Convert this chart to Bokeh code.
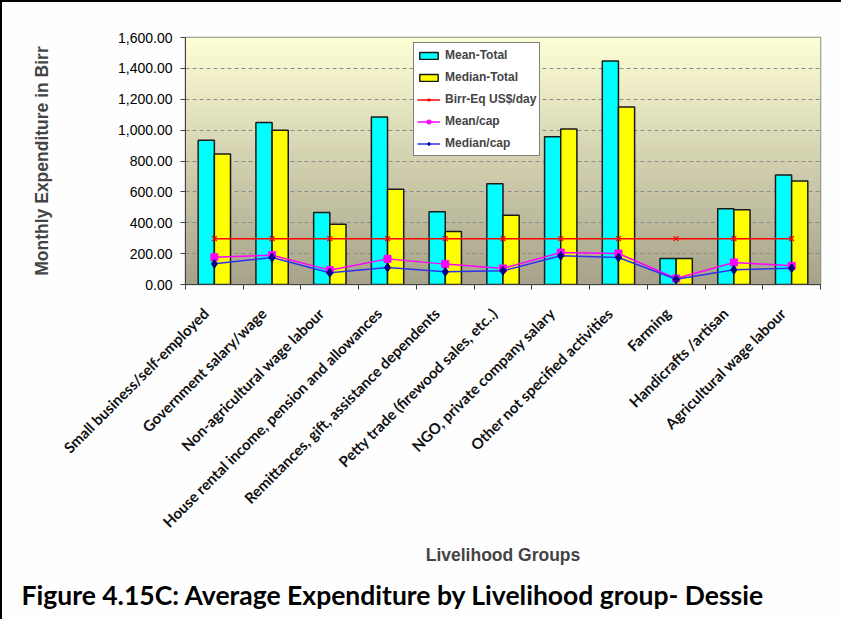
import numpy as np
from math import pi
from bokeh.plotting import figure
from bokeh.models import (Range1d, FixedTicker, NumeralTickFormatter,
                          Legend, LegendItem, Title, ColumnDataSource)
from bokeh.embed import file_html
from bokeh.resources import INLINE

categories = [
    "Small business/self-employed",
    "Government salary/wage",
    "Non-agricultural wage labour",
    "House rental income, pension and allowances",
    "Remittances, gift, assistance dependents",
    "Petty trade (firewood sales, etc..)",
    "NGO, private company salary",
    "Other not specified activities",
    "Farming",
    "Handicrafts /artisan",
    "Agricultural wage labour",
]
mean_total = [935, 1050, 466, 1085, 471, 652, 957, 1447, 168, 490, 710]
median_total = [845, 1000, 391, 617, 343, 449, 1008, 1149, 168, 484, 671]
birr_eq = [297, 297, 297, 297, 297, 297, 297, 297, 297, 297, 297]
mean_cap = [177, 190, 93, 166, 132, 104, 207, 201, 39, 143, 121]
median_cap = [134, 175, 76, 110, 82, 89, 186, 175, 34, 95, 106]
y_ticks = [0, 200, 400, 600, 800, 1000, 1200, 1400, 1600]

n = len(categories)
centers = np.arange(n) + 0.5
bw = 0.28
label_shift = 0.15

src = ColumnDataSource(dict(
    xc=centers, xm=centers - bw / 2, xd=centers + bw / 2,
    mean_total=mean_total, median_total=median_total, birr_eq=birr_eq,
    mean_cap=mean_cap, median_cap=median_cap))

p = figure(width=841, height=619, output_backend="svg", toolbar_location=None,
           x_range=Range1d(0, n), y_range=Range1d(0, 1600),
           min_border_left=183, min_border_right=23, min_border_top=35, min_border_bottom=337)
p.styles = {"border-top": "2px solid black", "border-left": "2px solid black"}
p.background_fill_color = "white"
p.border_fill_color = "#FEFEFE"
p.outline_line_color = "#8A8A8A"
p.outline_line_width = 1.5

# gradient plot area
N = 200
t = np.linspace(0, 1, N)[:, None]
bot = np.array([166, 163, 138])
top = np.array([255, 255, 214])
cols = (bot + (top - bot) * t).astype(np.uint32)
img = np.empty((N, 2), dtype=np.uint32)
view = img.view(dtype=np.uint8).reshape((N, 2, 4))
view[:, :, 0] = cols[:, 0:1]
view[:, :, 1] = cols[:, 1:2]
view[:, :, 2] = cols[:, 2:3]
view[:, :, 3] = 255
p.image_rgba(image=[img], x=0, y=0, dw=n, dh=1600, level="image")

# grid
p.xgrid.grid_line_color = None
p.ygrid.grid_line_color = "#8C8C8C"
p.ygrid.grid_line_dash = "4 3"
p.ygrid.grid_line_width = 1

r_mean = p.vbar(x="xm", top="mean_total", width=bw, source=src, fill_color="#00FFFF",
                line_color="#1A1A1A", line_width=1.5)
r_med = p.vbar(x="xd", top="median_total", width=bw, source=src, fill_color="#FFFF00",
               line_color="#1A1A1A", line_width=1.5)

r_b1 = p.line(x="xc", y="birr_eq", source=src, line_color="#FF0000", line_width=1.5)
r_b2 = p.scatter(x="xc", y="birr_eq", source=src, marker="x", size=7, line_color="#FF0000", line_width=1.2)
r_m1 = p.line(x="xc", y="mean_cap", source=src, line_color="#FF00FF", line_width=1.5)
r_m2 = p.scatter(x="xc", y="mean_cap", source=src, marker="square", size=7,
                 fill_color="#FF00FF", line_color="#FF00FF")
r_d1 = p.line(x="xc", y="median_cap", source=src, line_color="#3030F0", line_width=1.5)
r_d2 = p.scatter(x="xc", y="median_cap", source=src, marker="diamond", size=9,
                 fill_color="#000080", line_color="#000080")

# axes
label_pos = centers - label_shift
xa = p.xaxis[0]
xa.ticker = FixedTicker(ticks=list(label_pos), minor_ticks=list(np.arange(n + 1)))
xa.major_label_overrides = {float(c): lab for c, lab in zip(label_pos, categories)}
xa.major_tick_line_color = None
xa.minor_tick_line_color = "#404040"
xa.minor_tick_out = 5
xa.minor_tick_in = 0
xa.major_label_orientation = pi / 4
xa.major_label_standoff = 20
xa.major_label_text_font = "Lato"
xa.major_label_text_font_style = "bold"
xa.major_label_text_font_size = "15px"
xa.major_label_text_color = "#111111"
xa.axis_line_color = "#404040"
xa.axis_label = "Livelihood Groups"
xa.axis_label_text_font = "Liberation Sans"
xa.axis_label_text_font_style = "bold"
xa.axis_label_text_font_size = "17.5px"
xa.axis_label_standoff = 5

ya = p.yaxis[0]
ya.ticker = FixedTicker(ticks=y_ticks)
ya.formatter = NumeralTickFormatter(format="0,0.00")
ya.major_label_text_font = "Liberation Sans"
ya.major_label_text_font_size = "14px"
ya.major_label_text_color = "#000000"
ya.major_tick_out = 5
ya.major_tick_in = 0
ya.major_label_standoff = 8
ya.minor_tick_line_color = None
ya.axis_line_color = "#404040"
ya.major_tick_line_color = "#404040"
ya.axis_label = "Monthly Expenditure in Birr"
ya.axis_label_text_font = "Liberation Sans"
ya.axis_label_text_font_style = "bold"
ya.axis_label_text_font_size = "17.5px"
ya.axis_label_standoff = 63

legend = Legend(items=[
    LegendItem(label="Mean-Total", renderers=[r_mean]),
    LegendItem(label="Median-Total", renderers=[r_med]),
    LegendItem(label="Birr-Eq US$/day", renderers=[r_b1, r_b2]),
    LegendItem(label="Mean/cap", renderers=[r_m1, r_m2]),
    LegendItem(label="Median/cap", renderers=[r_d1, r_d2]),
], location=(228, 128))
legend.margin = 0
legend.padding = 3
legend.spacing = 4
legend.label_height = 18
legend.glyph_height = 9
legend.glyph_width = 23
legend.label_standoff = 5
legend.label_text_font = "Liberation Sans"
legend.label_text_font_style = "bold"
legend.label_text_font_size = "12px"
legend.border_line_color = "#000000"
legend.border_line_width = 1.5
legend.background_fill_color = "white"
legend.background_fill_alpha = 1
p.add_layout(legend)

title = Title(text="Figure 4.15C: Average Expenditure by Livelihood group- Dessie",
              align="left", offset=-164, standoff=19,
              text_font="Lato", text_font_style="bold", text_font_size="26.5px",
              text_color="#000000")
p.add_layout(title, "below")

open("out.html", "w").write(file_html(p, INLINE))
